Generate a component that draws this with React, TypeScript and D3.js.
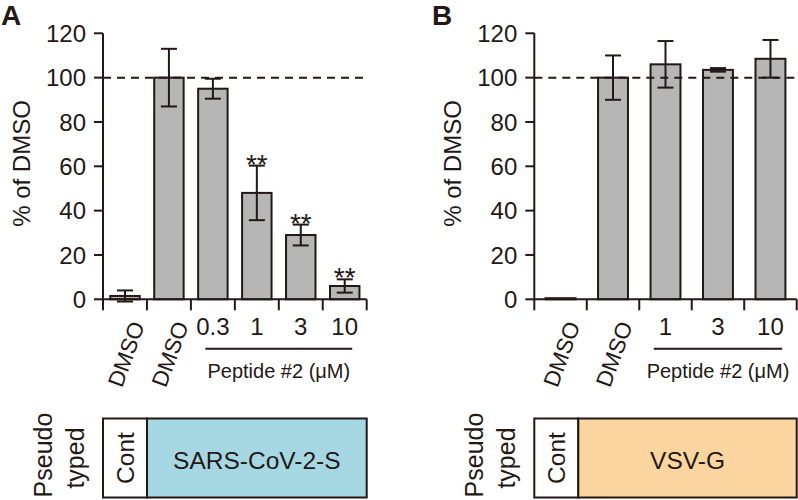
import React from "react";
import * as d3 from "d3";

const categoriesA = ["DMSO", "DMSO", "0.3", "1", "3", "10"];
const meansA = [1.5, 100, 95, 48, 29, 6];
const errorsA = [2.5, 13, 4.5, 12.3, 4.7, 3];
const sigA = ["", "", "", "**", "**", "**"];

const categoriesB = ["DMSO", "DMSO", "1", "3", "10"];
const meansB = [0.5, 100, 106, 103.5, 108.5];
const errorsB = [0, 10, 10.5, 0.8, 8.5];
const sigB = ["", "", "", "", ""];

const yTicks = [0, 20, 40, 60, 80, 100, 120];
const xLabelTitle = "Peptide #2 (\u03bcM)";

const INK = "#231815";
const BAR = "#b5b6b5";
const FONT = "Liberation Sans, Arial, sans-serif";

type PanelProps = {
  letter: string;
  letterX: number;
  x0: number;
  x1: number;
  cats: string[];
  means: number[];
  errs: number[];
  sig: string[];
  boxLabel: string;
  boxColor: string;
  padInner: number;
  dashEnd: number;
};

function Panel(p: PanelProps) {
  const y = d3.scaleLinear().domain([0, 120]).range([299.3, 33.3]);
  const idx = p.cats.map((_, i) => String(i));
  const x = d3
    .scaleBand<string>()
    .domain(idx)
    .range([p.x0, p.x1])
    .paddingInner(p.padInner)
    .paddingOuter(p.padInner / 2);
  const step = x.step();
  const bw = x.bandwidth();
  const cx = (i: number) => (x(String(i)) as number) + bw / 2;
  const boundaries = d3.range(p.cats.length + 1).map((i) => p.x0 + i * step);
  const pepStart = p.x0 + 2 * step + 14.5;
  const pepEnd = p.x1 - 14.5;
  const contW = 44;
  const cap = 8;

  return (
    <g fontFamily={FONT} fill={INK}>
      <text x={p.letterX} y={25} fontSize={28} fontWeight="bold">
        {p.letter}
      </text>
      {/* y axis */}
      <line x1={p.x0} x2={p.x0} y1={y(120)} y2={y(0)} stroke={INK} strokeWidth={2} />
      {yTicks.map((t) => (
        <g key={t}>
          <line x1={p.x0 - 9} x2={p.x0} y1={y(t)} y2={y(t)} stroke={INK} strokeWidth={2} />
          <text x={p.x0 - 17} y={y(t) + 8.6} fontSize={24} textAnchor="end">
            {t}
          </text>
        </g>
      ))}
      <text
        transform={`translate(${p.x0 - 73},163.5) rotate(-90)`}
        fontSize={24}
        textAnchor="middle"
      >
        % of DMSO
      </text>
      {/* bars */}
      {p.means.map((m, i) => (
        <rect
          key={i}
          x={x(String(i)) as number}
          y={y(m)}
          width={bw}
          height={y(0) - y(m)}
          fill={BAR}
          stroke={INK}
          strokeWidth={2}
        />
      ))}
      {/* dashed line at 100 */}
      <line
        x1={p.x0}
        x2={p.dashEnd}
        y1={y(100)}
        y2={y(100)}
        stroke={INK}
        strokeWidth={2}
        strokeDasharray="8,6"
      />
      {/* error bars */}
      {p.means.map((m, i) =>
        p.errs[i] > 0 ? (
          <g key={i} stroke={INK} strokeWidth={2}>
            <line x1={cx(i)} x2={cx(i)} y1={y(m + p.errs[i])} y2={y(m - p.errs[i])} />
            <line x1={cx(i) - cap} x2={cx(i) + cap} y1={y(m + p.errs[i])} y2={y(m + p.errs[i])} />
            <line x1={cx(i) - cap} x2={cx(i) + cap} y1={y(m - p.errs[i])} y2={y(m - p.errs[i])} />
          </g>
        ) : null
      )}
      {p.sig.map((s, i) =>
        s ? (
          <text key={i} x={cx(i)} y={y(p.means[i] + p.errs[i]) + 8} fontSize={28} textAnchor="middle">
            {s}
          </text>
        ) : null
      )}
      {/* x axis */}
      <line x1={p.x0} x2={p.x1} y1={y(0)} y2={y(0)} stroke={INK} strokeWidth={2} />
      {boundaries.map((b, i) => (
        <line key={i} x1={b} x2={b} y1={y(0)} y2={y(0) + 11} stroke={INK} strokeWidth={2} />
      ))}
      {p.cats.map((c, i) =>
        c === "DMSO" ? (
          <text
            key={i}
            transform={`translate(${cx(i) + 20},325) rotate(-70)`}
            fontSize={22.5}
            textAnchor="end"
          >
            {c}
          </text>
        ) : (
          <text key={i} x={cx(i)} y={335} fontSize={24} textAnchor="middle">
            {c}
          </text>
        )
      )}
      <line x1={pepStart} x2={pepEnd} y1={348.7} y2={348.7} stroke={INK} strokeWidth={2} />
      <text x={(p.x0 + 2 * step + p.x1) / 2} y={378} fontSize={20} textAnchor="middle">
        {xLabelTitle}
      </text>
      {/* pseudo typed box */}
      <text transform={`translate(${p.x0 - 51},455) rotate(-90)`} fontSize={25} textAnchor="middle">
        Pseudo
      </text>
      <text transform={`translate(${p.x0 - 19},458) rotate(-90)`} fontSize={25} textAnchor="middle">
        typed
      </text>
      <rect x={p.x0} y={418.5} width={contW} height={79} fill="#ffffff" stroke={INK} strokeWidth={2} />
      <rect
        x={p.x0 + contW}
        y={418.5}
        width={p.x1 - p.x0 - contW}
        height={79}
        fill={p.boxColor}
        stroke={INK}
        strokeWidth={2}
      />
      <text
        transform={`translate(${p.x0 + contW / 2 + 8.5},458) rotate(-90)`}
        fontSize={24.5}
        textAnchor="middle"
      >
        Cont
      </text>
      <text x={(p.x0 + contW + p.x1) / 2} y={468.5} fontSize={24.5} textAnchor="middle">
        {p.boxLabel}
      </text>
    </g>
  );
}

export default function App() {
  return (
    <svg
      width={798}
      height={500}
      style={{ position: "absolute", left: 0, top: 0, background: "#fff" }}
    >
      <rect width={798} height={500} fill="#ffffff" />
      <Panel
        letter="A"
        letterX={1}
        x0={103}
        x1={366.7}
        cats={categoriesA}
        means={meansA}
        errs={errorsA}
        sig={sigA}
        boxLabel="SARS-CoV-2-S"
        boxColor="#a6d8e4"
        padInner={0.33}
        dashEnd={366.7}
      />
      <Panel
        letter="B"
        letterX={432}
        x0={534.3}
        x1={796.7}
        cats={categoriesB}
        means={meansB}
        errs={errorsB}
        sig={sigB}
        boxLabel="VSV-G"
        boxColor="#fbd5a0"
        padInner={0.43}
        dashEnd={798}
      />
    </svg>
  );
}
